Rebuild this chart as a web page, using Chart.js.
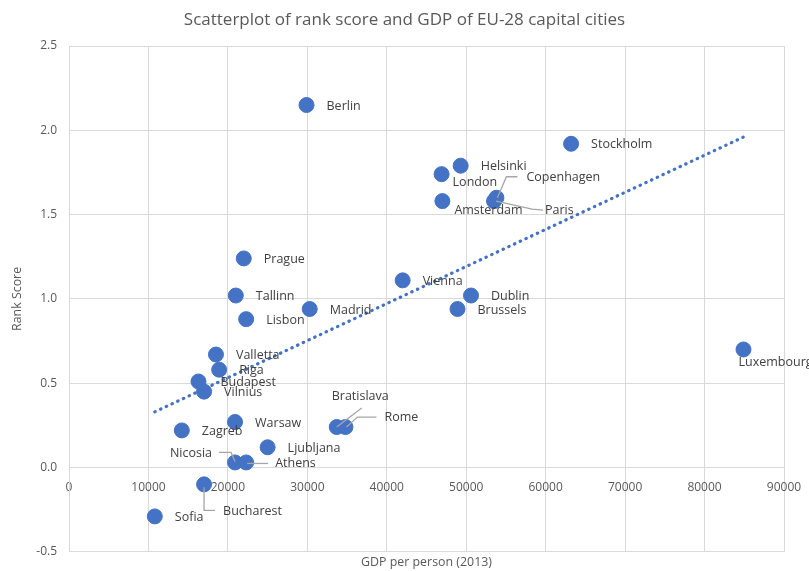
<!DOCTYPE html>
<html>
<head>
<meta charset="utf-8">
<script src="https://cdn.jsdelivr.net/npm/chart.js@4.4.1/dist/chart.umd.min.js"></script>
<style>
  html, body { margin: 0; padding: 0; background: #fff; }
</style>
</head>
<body>
<canvas id="scatterChart" width="809" height="571"></canvas>
<script>
// Capital cities, GDP per person (2013) and rank score
const cities = [
  'Berlin', 'Stockholm', 'Helsinki', 'London', 'Copenhagen', 'Paris', 'Amsterdam',
  'Prague', 'Vienna', 'Dublin', 'Tallinn', 'Madrid', 'Brussels', 'Lisbon',
  'Luxembourg', 'Valletta', 'Riga', 'Budapest', 'Vilnius', 'Warsaw', 'Zagreb',
  'Bratislava', 'Rome', 'Ljubljana', 'Nicosia', 'Athens', 'Bucharest', 'Sofia'
];
const gdp = [
  29900, 63200, 49300, 46900, 53800, 53500, 47000,
  22000, 42000, 50600, 21000, 30300, 48900, 22300,
  84900, 18500, 18900, 16300, 17000, 20900, 14200,
  33700, 34800, 25000, 20900, 22300, 17000, 10800
];
const rankScore = [
  2.15, 1.92, 1.79, 1.74, 1.60, 1.58, 1.58,
  1.24, 1.11, 1.02, 1.02, 0.94, 0.94, 0.88,
  0.70, 0.67, 0.58, 0.51, 0.45, 0.27, 0.22,
  0.24, 0.24, 0.12, 0.03, 0.03, -0.10, -0.29
];

// Linear trendline end points
const trendGdp = [10800, 84900];
const trendScore = [0.33, 1.96];

const xTicks = [0, 10000, 20000, 30000, 40000, 50000, 60000, 70000, 80000, 90000];
const yTicks = [-0.5, 0, 0.5, 1, 1.5, 2, 2.5];

// Label placement relative to each point (pixels); default is right of the point
const labelSpots = {
  London: { dx: 11, dy: 8 },
  Amsterdam: { dx: 12, dy: 9 },
  Budapest: { dx: 22 },
  Luxembourg: { dx: -5, dy: 13 },
  Copenhagen: { dx: 30, dy: -20, leader: [[1, 0], [10, -21], [21, -21]] },
  Paris: { dx: 51, dy: 9, leader: [[2, 0], [38, 8], [49, 9]] },
  Bratislava: { dx: -5, dy: -31, leader: [[0, 0], [25, -19]] },
  Rome: { dx: 39, dy: -10, leader: [[1, 0], [12, -10], [31, -10]] },
  Nicosia: { dx: -23, dy: -9, align: 'right', leader: [[-16, -10], [-4, -10], [0, -1]] },
  Athens: { dx: 29, dy: 1, leader: [[1, 1], [22, 1]] },
  Bucharest: { dx: 19, dy: 27, leader: [[0, 3], [0, 26], [11, 26]] }
};

const FONT = "'Open Sans', sans-serif";
const GRID = '#D9D9D9';
const TEXT = '#595959';
const BLUE = '#4472C4';

const cityLabels = {
  id: 'cityLabels',
  afterDatasetsDraw(chart) {
    const { ctx } = chart;
    const meta = chart.getDatasetMeta(0);
    ctx.save();
    ctx.font = '12.5px ' + FONT;
    ctx.textBaseline = 'middle';
    meta.data.forEach((pt, i) => {
      const spot = labelSpots[cities[i]] || {};
      const dx = spot.dx ?? 20;
      const dy = spot.dy ?? 1;
      if (spot.leader) {
        ctx.strokeStyle = '#A6A6A6';
        ctx.lineWidth = 1.3;
        ctx.beginPath();
        spot.leader.forEach(([lx, ly], k) => {
          if (k === 0) ctx.moveTo(pt.x + lx, pt.y + ly);
          else ctx.lineTo(pt.x + lx, pt.y + ly);
        });
        ctx.stroke();
      }
      ctx.fillStyle = '#404040';
      ctx.textAlign = spot.align || 'left';
      ctx.fillText(cities[i], pt.x + dx, pt.y + dy);
    });
    ctx.restore();
  }
};

new Chart(document.getElementById('scatterChart'), {
  type: 'scatter',
  data: {
    datasets: [
      {
        label: 'Rank score',
        data: gdp.map((g, i) => ({ x: g, y: rankScore[i] })),
        backgroundColor: BLUE,
        borderColor: BLUE,
        borderWidth: 1,
        pointRadius: 7.5,
        order: 2
      },
      {
        label: 'Trend',
        data: trendGdp.map((g, i) => ({ x: g, y: trendScore[i] })),
        showLine: true,
        pointRadius: 0,
        borderColor: BLUE,
        borderWidth: 3.2,
        borderDash: [0.5, 5.8],
        borderCapStyle: 'round',
        order: 1
      }
    ]
  },
  options: {
    responsive: false,
    animation: false,
    events: [],
    layout: { padding: 0 },
    plugins: {
      legend: { display: false },
      tooltip: { enabled: false },
      title: {
        display: true,
        text: 'Scatterplot of rank score and GDP of EU-28 capital cities',
        color: TEXT,
        font: { family: FONT, size: 17, weight: 'normal' },
        padding: { top: 10, bottom: 15.6 }
      }
    },
    scales: {
      x: {
        type: 'linear',
        position: { y: 0 },
        min: xTicks[0],
        max: xTicks[xTicks.length - 1],
        afterBuildTicks: s => { s.ticks = xTicks.map(v => ({ value: v })); },
        afterFit: s => { s.paddingLeft = 0; s.paddingRight = 0; },
        grid: { color: GRID, lineWidth: 1, drawTicks: false },
        border: { color: GRID },
        ticks: {
          color: TEXT,
          font: { family: FONT, size: 12 },
          padding: 13,
          maxRotation: 0,
          callback: v => String(v)
        }
      },
      x2: {
        type: 'linear',
        axis: 'x',
        position: 'bottom',
        min: xTicks[0],
        max: xTicks[xTicks.length - 1],
        grid: { display: false, drawTicks: false },
        border: { display: false },
        ticks: { display: false },
        title: {
          display: true,
          text: 'GDP per person (2013)',
          color: TEXT,
          font: { family: FONT, size: 12.4 },
          padding: { top: 3.1, bottom: 0 }
        }
      },
      y: {
        type: 'linear',
        min: yTicks[0],
        max: yTicks[yTicks.length - 1],
        afterBuildTicks: s => { s.ticks = yTicks.map(v => ({ value: v })); },
        afterFit: s => { s.width = 69; },
        grid: { color: GRID, lineWidth: 1, drawTicks: false },
        border: { color: GRID },
        ticks: {
          color: TEXT,
          font: { family: FONT, size: 12 },
          padding: 12,
          callback: v => Number(v).toFixed(1)
        },
        title: {
          display: true,
          text: 'Rank Score',
          color: TEXT,
          font: { family: FONT, size: 12.4 },
          padding: { top: 9.6, bottom: 0 }
        }
      },
      // empty right-hand axis that only reserves the margin right of the plot
      yRight: {
        type: 'linear',
        axis: 'y',
        position: 'right',
        min: yTicks[0],
        max: yTicks[yTicks.length - 1],
        afterFit: s => { s.width = 25; },
        grid: { display: false, drawTicks: false },
        border: { display: false },
        ticks: { display: false }
      }
    }
  },
  plugins: [cityLabels]
});
</script>
</body>
</html>
